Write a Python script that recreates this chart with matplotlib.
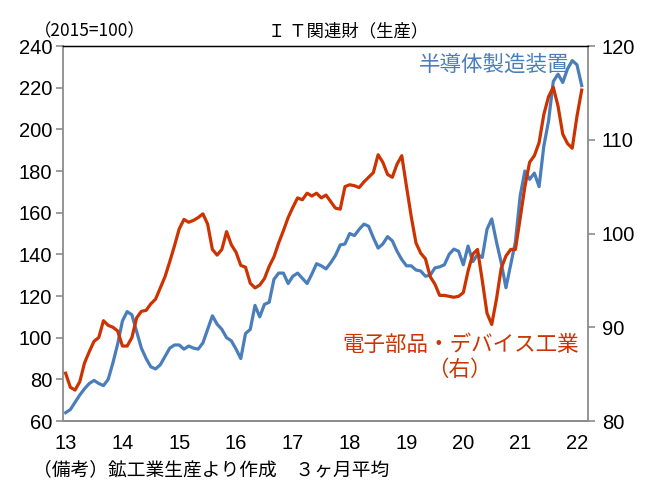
import matplotlib
matplotlib.use('Agg')
import matplotlib.pyplot as plt
import numpy as np

plt.rcParams['font.family'] = ['Noto Sans CJK JP', 'DejaVu Sans']

# 月次データ 2013年1月〜2022年2月（3ヶ月平均）
# 半導体製造装置（左軸, 2015=100）
semi = [64, 65.5, 69, 72.5, 75.5, 78, 79.5, 78, 77, 80, 88, 97,
        108, 112.5, 111, 103, 95, 90, 86, 85, 87, 91, 95, 96.5,
        96.5, 94.5, 96, 95, 94.5, 97.5, 104, 110.5, 106.5, 104, 100, 98.5,
        94.5, 90, 102, 104, 115.5, 110, 116, 117, 128, 131, 131, 126,
        129.5, 131, 128.5, 126, 130.5, 135.5, 134.5, 133, 136, 139.5, 144.5, 145,
        150, 149, 152, 154.5, 153.5, 148, 143, 145, 148.5, 146.5, 141.5, 137.5,
        134.5, 134.5, 132.5, 132, 129.5, 130, 133.5, 134, 135, 140, 142.5, 141.5,
        135, 144, 136.5, 140, 138.5, 152, 157, 146, 136, 124, 135, 146,
        168, 180, 176, 179, 172.5, 192, 204, 223, 226.5, 222.5, 229, 233,
        231, 221]
# 電子部品・デバイス工業（右軸）
elec = [85.1, 83.6, 83.3, 84.2, 86.2, 87.4, 88.5, 88.9, 90.7, 90.2, 90.0, 89.6,
        88.0, 88.0, 88.9, 91.0, 91.7, 91.8, 92.5, 93.0, 94.2, 95.4, 97.0, 98.7,
        100.5, 101.5, 101.2, 101.4, 101.7, 102.1, 101.0, 98.3, 97.7, 98.3, 100.2, 98.8,
        98.0, 96.6, 96.4, 94.7, 94.2, 94.5, 95.2, 96.5, 97.5, 99.0, 100.3, 101.7,
        102.8, 103.8, 103.6, 104.3, 104.0, 104.3, 103.8, 104.1, 103.4, 102.7, 102.6, 105.0,
        105.2, 105.1, 104.9, 105.5, 106.0, 106.5, 108.4, 107.6, 106.3, 106.0, 107.4, 108.3,
        105.0, 101.8, 99.0, 97.9, 97.3, 95.4, 94.6, 93.4, 93.4, 93.3, 93.2, 93.3,
        93.7, 96.0, 97.8, 98.3, 95.0, 91.5, 90.3, 93.0, 96.3, 97.6, 98.3, 98.3,
        101.6, 105.0, 107.6, 108.3, 109.7, 112.7, 114.6, 115.6, 113.6, 110.6, 109.6, 109.1,
        112.5, 115.3]
year_labels = ['13', '14', '15', '16', '17', '18', '19', '20', '21', '22']
left_ticks = [60, 80, 100, 120, 140, 160, 180, 200, 220, 240]
right_ticks = [80, 90, 100, 110, 120]

C_BLUE = '#4A7EBB'
C_RED = '#CC3300'
C_AX = '#8C8C8C'
NUM_FONT = ['Liberation Sans', 'DejaVu Sans']

fig = plt.figure(figsize=(6.51, 4.87), dpi=100)
ax = fig.add_axes([0.0975, 0.1355, 0.8055, 0.77])
ax2 = ax.twinx()

x = np.arange(len(semi))
ax.plot(x, semi, color=C_BLUE, lw=2.3, solid_joinstyle='round')
ax2.plot(np.arange(len(elec)), elec, color=C_RED, lw=2.3, solid_joinstyle='round')

ax.set_xlim(-0.45, 110.3)
ax.set_ylim(60, 240)
ax2.set_ylim(80, 120)
ax.set_yticks(left_ticks)
ax2.set_yticks(right_ticks)
ax.set_xticks(np.arange(0, 12 * len(year_labels), 12))
ax.set_xticklabels(year_labels)

for a in (ax, ax2):
    for s in ('left', 'right', 'bottom'):
        a.spines[s].set_color(C_AX)
        a.spines[s].set_linewidth(1.3)
    a.spines['top'].set_color('black')
    a.spines['top'].set_linewidth(0.9)
ax.spines['right'].set_visible(False)
ax2.spines['left'].set_visible(False)

ax.tick_params(axis='y', direction='out', length=5, color=C_AX, width=1.2, pad=3)
ax.tick_params(axis='x', length=0, pad=9)
ax2.tick_params(axis='y', direction='out', length=5, color=C_AX, width=1.2, pad=5)
for lab in ax.get_yticklabels() + ax.get_xticklabels() + ax2.get_yticklabels():
    lab.set_fontfamily(NUM_FONT)
    lab.set_fontsize(14.5)

fig.text(0.052, 0.935, '（2015=100）', fontsize=12.5, ha='left', va='center')
fig.text(0.535, 0.935, 'Ｉ Ｔ関連財（生産）', fontsize=12.5, ha='center', va='center')
ax.text(0.964, 0.949, '半導体製造装置', transform=ax.transAxes, fontsize=15.5,
        color=C_BLUE, ha='right', va='center')
ax.text(0.983, 0.203, '電子部品・デバイス工業', transform=ax.transAxes, fontsize=15.5,
        color=C_RED, ha='right', va='center')
ax.text(0.755, 0.136, '（右）', transform=ax.transAxes, fontsize=15.5,
        color=C_RED, ha='center', va='center')
fig.text(0.05, 0.035, '（備考）鉱工業生産より作成　３ヶ月平均', fontsize=13.5,
         ha='left', va='center')

fig.savefig('out.png', dpi=100)
